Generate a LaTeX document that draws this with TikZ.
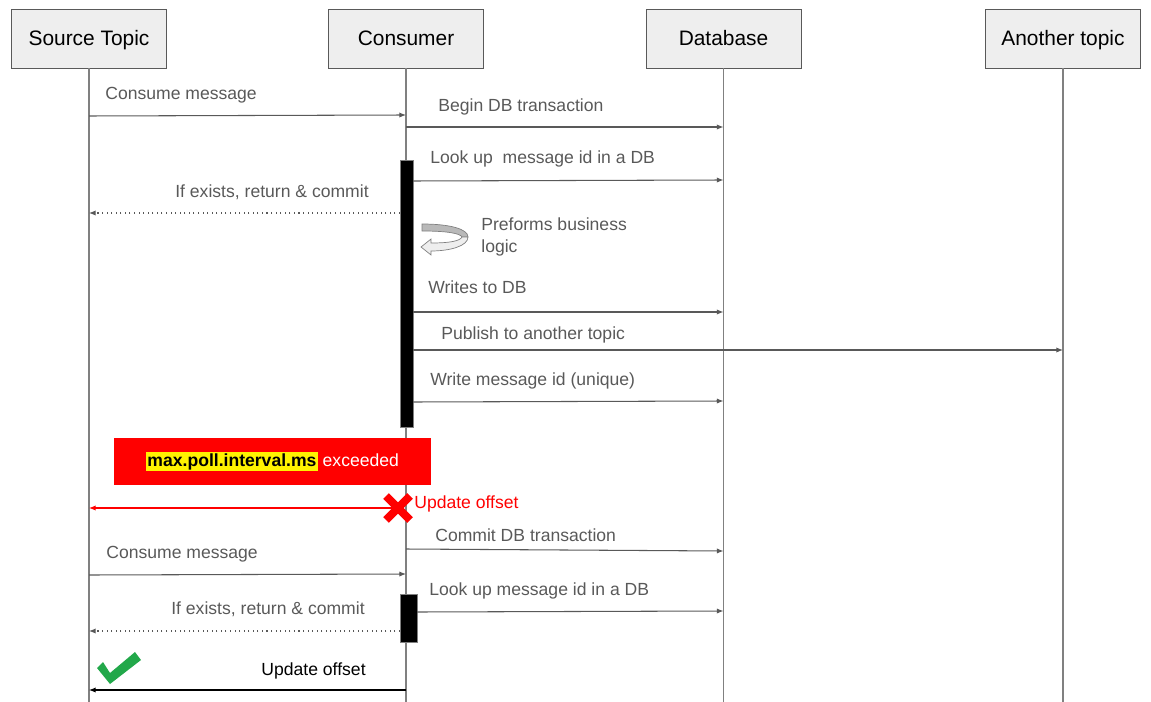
\documentclass[tikz,border=0pt]{standalone}
\usepackage{fontspec}
\setmainfont{Liberation Sans}
\usetikzlibrary{arrows.meta, positioning, calc}
\definecolor{linegray}{HTML}{595959}
\definecolor{headfill}{HTML}{EEEEEE}
\definecolor{okgreen}{HTML}{22A84A}

\begin{document}
\begin{tikzpicture}[x=0.02cm, y=-0.02cm,
    head/.style={rectangle, draw=linegray, fill=headfill, minimum width=3.1cm,
                 minimum height=1.18cm, text height=0.85em, text depth=0pt,
                 font=\fontsize{11.9}{14}\selectfont},
    life/.style={draw=gray, line width=0.6pt},
    msg/.style={draw=linegray, line width=0.6pt, -{Latex[length=3.8pt,width=3pt]}},
    ret/.style={msg, dotted},
    lbl/.style={anchor=west, text=linegray, inner sep=0pt, text height=0.9em, text depth=0.1em,
                font=\fontsize{10}{12.5}\selectfont},
    act/.style={rectangle, draw=gray, fill=black, inner sep=0pt}]
    \useasboundingbox (0,0) rectangle (1151,702);

    % Participants
    \node[head] (src) at (89,38.5) {Source Topic};
    \node[head] (con) at (406,38.5) {Consumer};
    \node[head] (db) at (723.5,38.5) {Database};
    \node[head] (oth) at (1063,38.5) {Another topic};

    % Lifelines
    \coordinate (srcend) at (89,702);
    \coordinate (conend) at (406,702);
    \coordinate (dbend) at (723.5,702);
    \coordinate (othend) at (1063,702);
    \draw[life] (src.south) -- (srcend);
    \draw[life] (con.south) -- (conend);
    \draw[life] (db.south) -- (dbend);
    \draw[life] (oth.south) -- (othend);

    % Activations
    \node[act, minimum width=0.26cm, minimum height=5.34cm] (act1) at (406.5,293.5) {};
    \node[act, minimum width=0.34cm, minimum height=0.96cm] (act2) at (408.5,618) {};

    % Message end points
    \coordinate (a1) at (89,116);   \coordinate (b1) at (406,115);
    \coordinate (a2) at (406,127);  \coordinate (b2) at (723.5,127);
    \coordinate (a3) at (413,181);  \coordinate (b3) at (723.5,180);
    \coordinate (a4) at (400,213);  \coordinate (b4) at (89,213);
    \coordinate (a5) at (413,312);  \coordinate (b5) at (723.5,312);
    \coordinate (a6) at (413,350);  \coordinate (b6) at (1063,350);
    \coordinate (a7) at (413,402);  \coordinate (b7) at (723.5,401);
    \coordinate (a8) at (398,508);  \coordinate (b8) at (89,508);
    \coordinate (a9) at (406,549);  \coordinate (b9) at (723.5,551);
    \coordinate (a10) at (89,575);  \coordinate (b10) at (406,574);
    \coordinate (a11) at (417,612); \coordinate (b11) at (723.5,611);
    \coordinate (a12) at (400,631); \coordinate (b12) at (89,631);
    \coordinate (a13) at (406,690); \coordinate (b13) at (89,690);

    % Messages
    \draw[msg] (a1) -- (b1);
    \draw[msg] (a2) -- (b2);
    \draw[msg] (a3) -- (b3);
    \draw[ret] (a4) -- (b4);
    \draw[msg] (a5) -- (b5);
    \draw[msg] (a6) -- (b6);
    \draw[msg] (a7) -- (b7);
    \draw[msg, draw=red] (a8) -- (b8);
    \draw[msg] (a9) -- (b9);
    \draw[msg] (a10) -- (b10);
    \draw[msg] (a11) -- (b11);
    \draw[ret] (a12) -- (b12);
    \draw[msg, draw=black] (a13) -- (b13);

    % Labels
    \node[lbl] (l1) at (105,92) {Consume message};
    \node[lbl] (l2) at (438,104) {Begin DB transaction};
    \node[lbl] (l3) at (430,156) {Look up\ \ message id in a DB};
    \node[lbl, anchor=east] (l4) at (369,190) {If exists, return \& commit};
    \node[lbl, align=left, text height=, text depth=] (l5) at (481,237) {Preforms business\\logic};
    \node[lbl] (l6) at (428,286) {Writes to DB};
    \node[lbl] (l7) at (441,332) {Publish to another topic};
    \node[lbl] (l8) at (430,378) {Write message id (unique)};
    \node[lbl, text=red] (l9) at (414,501) {Update offset};
    \node[lbl] (l10) at (435,534) {Commit DB transaction};
    \node[lbl] (l11) at (106,551) {Consume message};
    \node[lbl] (l12) at (429,588) {Look up message id in a DB};
    \node[lbl, anchor=east] (l13) at (365,607) {If exists, return \& commit};
    \node[lbl, anchor=east, text=black] (l14) at (366,668) {Update offset};

    % Timeout banner
    \node[rectangle, fill=red, minimum width=6.34cm, minimum height=0.94cm,
          font=\fontsize{10}{12}\selectfont] (warn) at (272.5,461.5)
          {\setlength\fboxsep{0.8pt}\colorbox{yellow}{\textbf{max.poll.interval.ms}} \textcolor{white}{exceeded}};

    % Self call
    \draw[gray, fill=gray!55, line width=0.4pt] (422,224) .. controls (450,224) and (468,229) .. (468,237)
        -- (462,237) .. controls (460,233) and (445,231) .. (422,231) -- cycle;
    \draw[gray, fill=headfill, line width=0.4pt] (468,237) .. controls (468,246) and (450,251) .. (431,251)
        -- (431,255) -- (421,247) -- (431,239) -- (431,243) .. controls (450,243) and (460,241) .. (462,237) -- cycle;

    % Failed and committed marks
    \draw[red, line width=4.5pt] (386,496) -- (410,520) (386,520) -- (410,496);
    \fill[okgreen] (97,668) -- (110,684) -- (141,660) -- (135,652) -- (110,673) -- (103,662) -- cycle;
\end{tikzpicture}
\end{document}
